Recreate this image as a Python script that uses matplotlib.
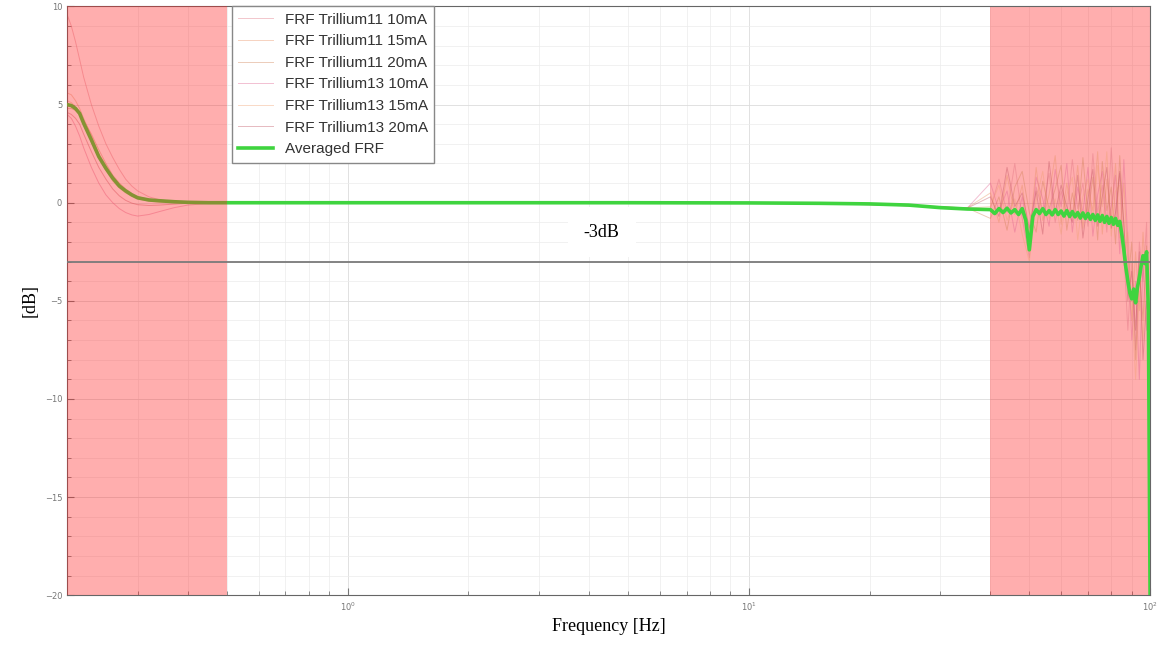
import matplotlib
matplotlib.use("Agg")
import matplotlib.pyplot as plt
from matplotlib.ticker import MultipleLocator, LogLocator

# frequency grid for the individual FRFs [Hz]
freq = [0.2, 0.205, 0.21, 0.215, 0.22, 0.23, 0.24, 0.25, 0.26, 0.27, 0.28, 0.29, 0.30, 0.32, 0.34, 0.37, 0.40, 0.45, 0.5,
        1, 2, 5, 10, 15, 20, 25, 30, 35,
        40, 42, 44, 46, 48, 50, 52, 54, 56, 58, 60, 62, 64, 66, 68, 70, 72, 74, 76, 78, 80, 82, 84, 86, 88, 90, 92, 94, 96, 98, 99, 100]

t11_10 = [9.6, 9.0, 8.2, 7.3, 6.4, 5.0, 3.9, 3.0, 2.3, 1.7, 1.2, 0.85, 0.6, 0.3, 0.15, 0.05, 0.0, 0.0, 0.0,
          0.0, 0.0, 0.0, -0.02, -0.05, -0.1, -0.16, -0.22, -0.28,
          -0.3, 1.2, -0.5, 2.0, -0.8, -2.8, 0.8, -0.4, 1.5, -1.0, 0.6, -0.6, 2.2, -0.3, 1.0, -1.2, 2.5, -0.5, 0.9, -1.5,
          2.8, -0.8, 1.5, -2.5, -6.5, -3.0, -7.5, -2.0, -4.0, -1.0, -9.0, -20.5]
t11_15 = [5.6, 5.5, 5.2, 4.8, 4.3, 3.4, 2.5, 1.9, 1.35, 0.95, 0.65, 0.42, 0.27, 0.13, 0.06, 0.02, 0.0, 0.0, 0.0,
          0.0, 0.0, 0.0, -0.02, -0.05, -0.08, -0.14, -0.2, -0.26,
          0.5, -1.0, 1.4, -0.6, 0.9, -1.8, 1.8, -0.9, 0.4, 2.4, -1.1, 1.0, -0.7, 1.9, -1.3, 0.7, -0.4, 2.6, -1.6, 1.2,
          -0.9, 2.0, -1.8, 1.0, -3.0, -6.0, -2.5, -5.5, -1.5, -4.5, -3.0, -12.0]
t11_20 = [4.8, 4.8, 4.7, 4.5, 4.2, 3.5, 2.7, 2.0, 1.4, 1.0, 0.7, 0.48, 0.32, 0.16, 0.08, 0.03, 0.01, 0.0, 0.0,
          0.0, 0.0, 0.0, -0.02, -0.06, -0.09, -0.15, -0.21, -0.27,
          -0.8, 0.3, -1.4, 0.8, 1.6, -0.5, -1.5, 1.1, -0.3, 0.7, 1.9, -1.4, 0.5, -0.9, 2.3, -0.6, 1.3, -1.9, 2.1, -0.4,
          0.8, -2.1, 2.4, -1.2, -4.2, -2.0, -8.0, -3.5, -6.0, -2.2, -7.0, -16.0]
t13_10 = [4.5, 4.3, 3.9, 3.4, 2.8, 1.8, 1.0, 0.4, 0.0, -0.3, -0.5, -0.62, -0.68, -0.6, -0.45, -0.25, -0.12, -0.04, 0.0,
          0.0, 0.0, 0.0, -0.02, -0.05, -0.1, -0.15, -0.22, -0.28,
          1.0, -0.4, 0.6, -1.5, 0.3, -2.0, 1.3, 0.2, -1.2, 1.7, -0.2, 2.0, -1.5, 0.8, -0.5, 1.8, -1.7, 0.4, 1.6, -1.1,
          -0.2, 1.4, -2.6, 2.2, -2.0, -7.0, -4.0, -9.0, -3.0, -6.5, -4.0, -18.0]
t13_15 = [5.2, 5.1, 4.9, 4.6, 4.1, 3.2, 2.3, 1.65, 1.1, 0.75, 0.5, 0.33, 0.2, 0.08, 0.03, 0.0, 0.0, 0.0, 0.0,
          0.0, 0.0, 0.0, -0.02, -0.05, -0.08, -0.15, -0.21, -0.27,
          -0.2, 0.9, -0.9, 0.2, -1.6, -3.0, 0.1, 1.6, -0.8, 0.2, -1.6, 0.4, 1.3, -1.9, 0.3, 1.2, -0.9, 1.9, -0.2, 2.6,
          -1.7, 0.6, 0.9, -3.2, -1.5, -5.0, -9.0, -4.5, -7.0, -3.2, -10.0, -14.0]
t13_20 = [4.6, 4.5, 4.3, 4.0, 3.5, 2.6, 1.8, 1.2, 0.7, 0.35, 0.12, -0.02, -0.1, -0.14, -0.12, -0.07, -0.03, 0.0, 0.0,
          0.0, 0.0, 0.0, -0.02, -0.05, -0.1, -0.16, -0.22, -0.28,
          0.3, -0.7, 1.8, -0.2, 0.5, -1.3, 0.6, -1.6, 2.1, -0.5, 0.9, -0.2, -1.0, 1.4, -1.8, 0.2, 1.7, -1.2, 0.3, 1.8,
          -1.3, -0.5, 1.6, -1.0, -5.0, -3.5, -6.5, -2.5, -8.0, -5.0, -6.0, -20.5]

# averaged FRF (finer grid at the top end)
freq_avg = [0.2, 0.205, 0.21, 0.215, 0.22, 0.23, 0.24, 0.25, 0.26, 0.27, 0.28, 0.29, 0.30, 0.32, 0.34, 0.37, 0.40, 0.45, 0.5,
            1, 2, 5, 10, 15, 20, 25, 30, 35] + list(range(40, 101))
avg_frf = [5.0, 4.95, 4.8, 4.55, 4.05, 3.2, 2.35, 1.75, 1.25, 0.85, 0.6, 0.4, 0.25, 0.14, 0.1, 0.05, 0.02, 0.0, 0.0,
           0.0, 0.0, 0.0, -0.01, -0.03, -0.06, -0.12, -0.25, -0.32,
           -0.35, -0.55, -0.3, -0.5, -0.28, -0.52, -0.35, -0.6, -0.3, -0.9,
           -2.4, -0.7, -0.35, -0.55, -0.3, -0.6, -0.4, -0.62, -0.35, -0.6,
           -0.42, -0.68, -0.4, -0.7, -0.45, -0.72, -0.5, -0.78, -0.52, -0.8,
           -0.55, -0.85, -0.6, -0.9, -0.62, -0.95, -0.65, -1.0, -0.7, -1.05,
           -0.75, -1.1, -0.8, -1.15, -0.95, -1.6, -2.4, -3.3, -4.0, -4.6,
           -4.9, -4.4, -5.1, -4.3, -3.8, -3.2, -2.7, -3.1, -2.5, -5.5, -20.5]

labels = ["FRF Trillium11 10mA", "FRF Trillium11 15mA", "FRF Trillium11 20mA",
          "FRF Trillium13 10mA", "FRF Trillium13 15mA", "FRF Trillium13 20mA"]
series = [t11_10, t11_15, t11_20, t13_10, t13_15, t13_20]
colors = ["#e07080", "#e89060", "#d08050", "#e06090", "#f0a070", "#c05060"]

cut_low = 0.5     # Hz
cut_high = 40     # Hz

fig = plt.figure(figsize=(11.76, 6.47), dpi=100)
ax = fig.add_axes([0.057, 0.080, 0.921, 0.910])

for s, lab, c in zip(series, labels, colors):
    ax.plot(freq, s, color=c, lw=0.7, alpha=0.4, label=lab, zorder=2)
ax.plot(freq_avg, avg_frf, color="#3fd43f", lw=2.6, label="Averaged FRF", zorder=3)

# bands outside the usable range
ax.axvspan(0.2, cut_low, color="#ff2020", alpha=0.36, lw=0, zorder=4)
ax.axvspan(cut_high, 100, color="#ff2020", alpha=0.36, lw=0, zorder=1.8)

ax.axhline(-3, color="#7a7a7a", lw=1.3, zorder=5)
ax.text(4.3, -1.5, "-3dB", fontsize=13, family="Liberation Serif", ha="center", va="center",
        bbox=dict(boxstyle="square,pad=0.9", facecolor="white", edgecolor="none"), zorder=6)

ax.set_xscale("log")
ax.set_xlim(0.2, 100)
ax.set_ylim(-20, 10)
ax.yaxis.set_major_locator(MultipleLocator(5))
ax.yaxis.set_minor_locator(MultipleLocator(1))
ax.xaxis.set_major_locator(LogLocator(base=10))
ax.xaxis.set_minor_locator(LogLocator(base=10, subs=range(2, 10)))

ax.grid(which="major", color="#dcdcdc", lw=0.6)
ax.grid(which="minor", color="#ececec", lw=0.5)
ax.set_axisbelow(True)

ax.tick_params(which="both", direction="in", colors="#777777", labelsize=6)
ax.tick_params(which="major", length=5)
ax.tick_params(which="minor", length=3)
for sp in ax.spines.values():
    sp.set_color("#666666")
    sp.set_linewidth(0.8)

ax.set_xlabel("Frequency [Hz]", fontsize=13, family="Liberation Serif")
ax.set_ylabel("[dB]", fontsize=13, family="Liberation Serif")

leg = ax.legend(loc="upper left", bbox_to_anchor=(0.152, 1.0), borderaxespad=0,
                prop={"family": "Liberation Sans", "size": 11}, handlelength=2.3,
                fancybox=False, framealpha=1, edgecolor="#888888")
leg.set_zorder(10)
for t in leg.get_texts():
    t.set_color("#333333")

fig.savefig("out.png", dpi=100)
